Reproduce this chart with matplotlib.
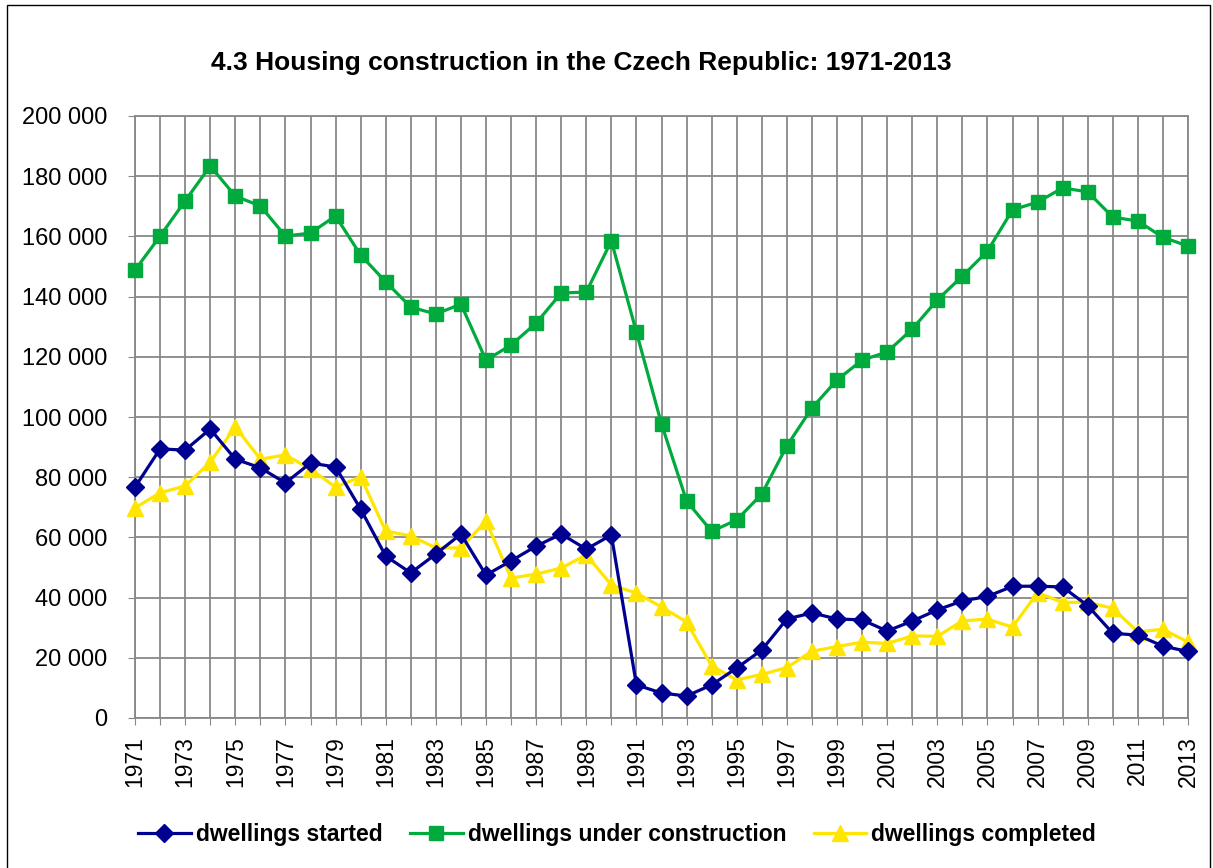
import matplotlib
matplotlib.use("Agg")
import matplotlib.pyplot as plt
from matplotlib.patches import Rectangle
from matplotlib.ticker import FuncFormatter, MultipleLocator

# Values
years = list(range(1971, 2014))
started = [
    76700, 89400, 89000, 96000, 86000, 83100, 78100, 84700, 83400, 69400,
    53800, 48200, 54500, 61100, 47500, 52200, 57100, 61100, 56100, 60800,
    11000, 8300, 7300, 11000, 16600, 22600, 32900, 34900, 32900, 32600,
    28900, 32200, 35900, 38900, 40381, 43747, 43796, 43531, 37319, 28135,
    27535, 23853, 22108,
]
under_construction = [
    148800, 160100, 171800, 183400, 173400, 170100, 160100, 161100, 166800, 153800,
    144900, 136500, 134200, 137500, 118900, 123900, 131200, 141200, 141500, 158500,
    128200, 97700, 72100, 62000, 65800, 74400, 90400, 103000, 112300, 118900,
    121600, 129200, 138900, 146800, 155100, 168800, 171400, 176100, 174800, 166400,
    165100, 159700, 156800,
]
completed = [
    69800, 74800, 77100, 85000, 96700, 86000, 87400, 82700, 76700, 80100,
    62100, 60500, 56500, 56500, 65400, 46500, 47800, 49800, 54200, 44200,
    41500, 36900, 31900, 17300, 12662, 14482, 16757, 22183, 23734, 25207,
    24759, 27291, 27127, 32268, 32863, 30190, 41649, 38380, 38473, 36442,
    28630, 29467, 25238,
]

plt.rcParams["font.family"] = ["Liberation Sans", "DejaVu Sans"]

fig = plt.figure(figsize=(12.13, 8.68), dpi=100)
ax = fig.add_axes([135 / 1213, 150 / 868, 1053 / 1213, 602 / 868])

ax.plot(years, started, color="#000090", lw=2.3, marker="D", ms=9,
        label="dwellings started", zorder=4)
ax.plot(years, under_construction, color="#00AA3C", lw=2.3, marker="s", ms=10.5,
        label="dwellings under construction", zorder=3)
ax.plot(years, completed, color="#FFE500", lw=2.3, marker="^", ms=12,
        label="dwellings completed", zorder=3)

ax.set_xlim(1971, 2013)
ax.set_ylim(0, 200000)
ax.xaxis.set_major_locator(MultipleLocator(1))
ax.yaxis.set_major_locator(MultipleLocator(20000))
ax.xaxis.set_major_formatter(
    FuncFormatter(lambda v, p: f"{int(v)}" if int(v) % 2 == 1 else ""))
ax.yaxis.set_major_formatter(
    FuncFormatter(lambda v, p: f"{int(v):,}".replace(",", " ")))
ax.tick_params(axis="x", labelrotation=90, labelsize=16.5, length=5,
               color="#888888", pad=8)
ax.tick_params(axis="y", labelsize=17, length=5, color="#888888", pad=15)
ax.grid(True, color="#888888", lw=1.3)
ax.set_axisbelow(True)
for s in ax.spines.values():
    s.set_color("#888888")
    s.set_linewidth(1.3)
for ln in ax.lines:
    ln.set_clip_on(False)

fig.text(581 / 1213, 1 - 63 / 868,
         "4.3 Housing construction in the Czech Republic: 1971-2013",
         ha="center", va="center", fontsize=19, fontweight="bold")

fig.legend(loc="center", bbox_to_anchor=(617 / 1213, 1 - 835 / 868), ncol=3,
           frameon=False, prop={"weight": "bold", "size": 16.5},
           handlelength=2.3, handletextpad=0.22, columnspacing=1.2)

fig.patches.append(Rectangle((7 / 1213, -0.05), 1203 / 1213, 1.05 - 5 / 868,
                             transform=fig.transFigure, fill=False,
                             edgecolor="black", lw=1))

fig.savefig("out.png", dpi=100)
